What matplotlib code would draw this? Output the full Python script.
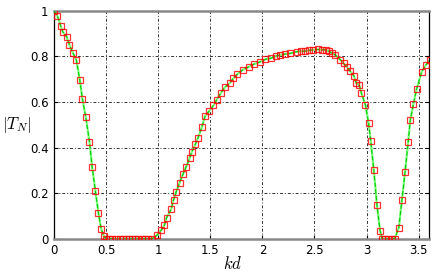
import matplotlib
matplotlib.use("Agg")
import matplotlib.pyplot as plt

plt.rcParams['mathtext.fontset'] = 'cm'
plt.rcParams['font.family'] = ['DejaVu Sans']

# values
kd = [0.0, 0.032, 0.064, 0.083, 0.122, 0.147, 0.18, 0.214, 0.247, 0.272, 0.305,
      0.34, 0.365, 0.397, 0.426, 0.452, 0.477, 0.50, 0.53, 0.56, 0.59, 0.63,
      0.66, 0.69, 0.72, 0.75, 0.78, 0.81, 0.84, 0.87, 0.90, 0.94, 0.987, 1.03,
      1.06, 1.08, 1.125, 1.147, 1.173, 1.205, 1.237, 1.269, 1.301, 1.324, 1.356,
      1.38, 1.42, 1.45, 1.49, 1.53, 1.56, 1.60, 1.64, 1.69, 1.72, 1.76, 1.81,
      1.87, 1.92, 1.98, 2.03, 2.08, 2.13, 2.17, 2.22, 2.27, 2.33, 2.37, 2.41,
      2.45, 2.49, 2.53, 2.57, 2.61, 2.64, 2.67, 2.70, 2.75, 2.78, 2.81, 2.84,
      2.88, 2.90, 2.93, 2.95, 2.99, 3.02, 3.04, 3.07, 3.10, 3.13, 3.15, 3.18,
      3.21, 3.24, 3.27, 3.31, 3.34, 3.37, 3.40, 3.42, 3.45, 3.48, 3.53, 3.57,
      3.61]
tn = [1.0, 0.977, 0.933, 0.908, 0.885, 0.851, 0.816, 0.784, 0.696, 0.614, 0.532,
      0.425, 0.316, 0.209, 0.113, 0.044, 0.012, 0.0, 0.0, 0.0, 0.0, 0.0,
      0.0, 0.0, 0.0, 0.0, 0.0, 0.0, 0.0, 0.0, 0.0, 0.0, 0.015, 0.038,
      0.06, 0.092, 0.13, 0.17, 0.206, 0.246, 0.282, 0.316, 0.352, 0.382, 0.414,
      0.44, 0.491, 0.538, 0.56, 0.585, 0.608, 0.638, 0.664, 0.684, 0.703, 0.722, 0.74,
      0.754, 0.766, 0.776, 0.787, 0.791, 0.801, 0.806, 0.81, 0.813, 0.82, 0.822, 0.823,
      0.826, 0.828, 0.83, 0.829, 0.828, 0.822, 0.813, 0.806, 0.784, 0.769, 0.754, 0.736,
      0.714, 0.684, 0.674, 0.64, 0.586, 0.506, 0.43, 0.30, 0.148, 0.035, 0.0, 0.0,
      0.0, 0.0, 0.0, 0.048, 0.17, 0.294, 0.425, 0.52, 0.59, 0.655, 0.732, 0.762,
      0.784]

fig = plt.figure(figsize=(4.36, 2.79), dpi=100)
ax = fig.add_axes([0.124, 0.1444, 0.86, 0.8172])

ax.plot(kd, tn, color='#80ff80', lw=1.6, zorder=2)
ax.plot(kd, tn, color='#00cc00', lw=0.8, ls=(0, (4, 2)), zorder=3)
ax.plot(kd, tn, ls='none', marker='s', ms=4.5, mfc='none', mec='red',
        mew=0.9, alpha=0.8, zorder=4)

ax.set_xlim(0, 3.6)
ax.set_ylim(0, 1)
ax.set_xticks([0, 0.5, 1, 1.5, 2, 2.5, 3, 3.5])
ax.set_xticklabels(['0', '0.5', '1', '1.5', '2', '2.5', '3', '3.5'])
ax.set_yticks([0, 0.2, 0.4, 0.6, 0.8, 1])
ax.set_yticklabels(['0', '0.2', '0.4', '0.6', '0.8', '1'])
ax.tick_params(direction='in', length=3, labelsize=8.5, top=False, right=True, pad=4)
ax.grid(True, color='#333333', ls=(0, (3, 2, 1, 2)), lw=0.7)

for s in ['top', 'bottom']:
    ax.spines[s].set_color('#888888')
    ax.spines[s].set_linewidth(1.8)
for s in ['left', 'right']:
    ax.spines[s].set_color('black')
    ax.spines[s].set_linewidth(0.9)

ax.set_xlabel(r'$kd$', fontsize=12, va='center')
ax.xaxis.set_label_coords(0.475, -0.112)
ax.set_ylabel(r'$|T_N|$', fontsize=12, rotation=0, va='center', ha='center')
ax.yaxis.set_label_coords(-0.1, 0.5)

fig.savefig('out.png', dpi=100)
